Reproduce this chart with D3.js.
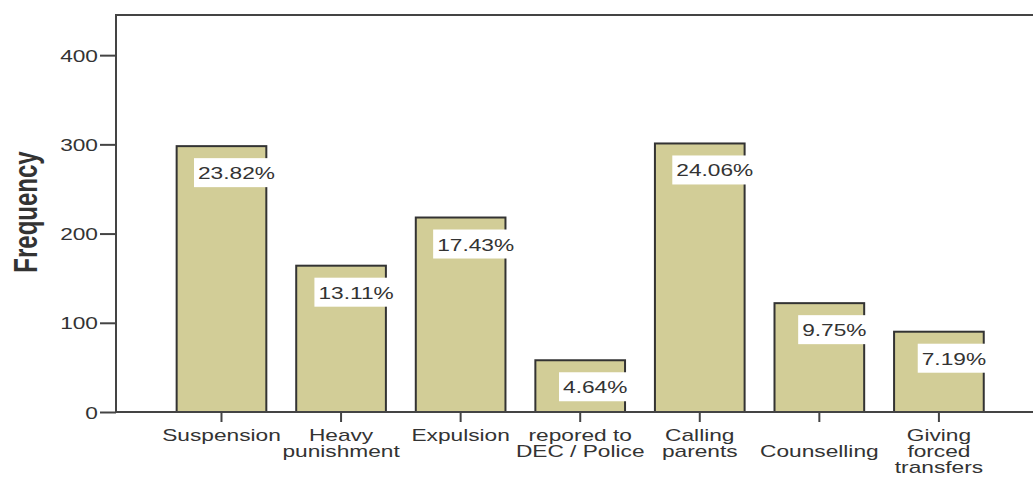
<!DOCTYPE html>
<html>
<head>
<meta charset="utf-8">
<script src="https://cdn.jsdelivr.net/npm/d3@7"></script>
<style>
  body { margin: 0; background: #fff; }
  text { font-family: "Liberation Sans", Arial, sans-serif; fill: #333; }
</style>
</head>
<body>
<svg id="chart" width="1033" height="477"></svg>
<script>
// categories as label lines (Counselling sits one line lower in the original)
const categories = [
  ["Suspension"],
  ["Heavy", "punishment"],
  ["Expulsion"],
  ["repored to", "DEC / Police"],
  ["Calling", "parents"],
  ["", "Counselling"],
  ["Giving", "forced", "transfers"]
]
const frequency = [298, 164, 218, 58, 301, 122, 90]
const percentLabels = ["23.82%", "13.11%", "17.43%", "4.64%", "24.06%", "9.75%", "7.19%"]
const yTicks = [0, 100, 200, 300, 400]

const svg = d3.select("#chart")
const stretch = 1.42   // the original is stretched horizontally
const plotLeft = 116, plotTop = 15, plotBottom = 412, plotRight = 1033

const x = d3.scaleBand()
  .domain(d3.range(categories.length))
  .range([161.7, 998.7])
  .paddingInner(0.25)
  .paddingOuter(0.125)

const y = d3.scaleLinear()
  .domain([0, 445])
  .range([plotBottom, plotTop])

// bars
svg.append("g")
  .selectAll("rect")
  .data(frequency)
  .enter()
  .append("rect")
  .attr("x", (d, i) => x(i))
  .attr("y", d => y(d))
  .attr("width", x.bandwidth())
  .attr("height", d => y(0) - y(d))
  .attr("fill", "#d2cd97")
  .attr("stroke", "#333")
  .attr("stroke-width", 2)

// percent labels with white boxes
const labels = svg.append("g")
  .selectAll("g")
  .data(frequency)
  .enter()
  .append("g")
  .attr("transform", (d, i) => `translate(${x(i) + x.bandwidth() / 2 + 15}, ${y(d) + 12})`)
labels.append("rect").attr("fill", "#fff")
labels.append("text")
  .text((d, i) => percentLabels[i])
  .attr("text-anchor", "middle")
  .attr("font-size", 16)
  .attr("transform", `translate(0, 21) scale(${stretch}, 1)`)
labels.each(function() {
  const g = d3.select(this)
  const w = g.select("text").node().getComputedTextLength() * stretch + 8
  g.select("rect")
    .attr("x", -w / 2)
    .attr("y", 0)
    .attr("width", w)
    .attr("height", 29)
})

// frame
svg.append("path")
  .attr("d", `M${plotRight},${plotTop}H${plotLeft}V${plotBottom}H${plotRight}`)
  .attr("fill", "none")
  .attr("stroke", "#444")
  .attr("stroke-width", 2)

// y axis
const yAxis = svg.append("g")
  .attr("transform", `translate(${plotLeft}, 0)`)
  .call(d3.axisLeft(y).tickValues(yTicks).tickSize(16).tickPadding(2))
yAxis.select(".domain").remove()
yAxis.selectAll("line").attr("stroke", "#444").attr("stroke-width", 2)
yAxis.selectAll("text")
  .attr("font-size", 16)
  .attr("fill", "#333")
  .attr("x", null)
  .attr("dy", null)
  .attr("transform", `translate(-18, 6) scale(${stretch}, 1)`)

// x axis
const xAxis = svg.append("g")
  .attr("transform", `translate(0, ${plotBottom})`)
  .call(d3.axisBottom(x).tickSize(10).tickFormat(""))
xAxis.select(".domain").remove()
xAxis.selectAll("line").attr("stroke", "#444").attr("stroke-width", 2)

svg.append("g")
  .selectAll("text")
  .data(categories)
  .enter()
  .append("text")
  .attr("text-anchor", "middle")
  .attr("font-size", 16)
  .attr("transform", (d, i) => `translate(${x(i) + x.bandwidth() / 2}, 441) scale(${stretch}, 1)`)
  .selectAll("tspan")
  .data(d => d)
  .enter()
  .append("tspan")
  .attr("x", 0)
  .attr("y", (d, j) => j * 16)
  .text(d => d)

// y title
svg.append("text")
  .text("Frequency")
  .attr("text-anchor", "middle")
  .attr("font-size", 24)
  .attr("font-weight", "bold")
  .attr("transform", `translate(37, 212) scale(${stretch}, 1) rotate(-90)`)
</script>
</body>
</html>
